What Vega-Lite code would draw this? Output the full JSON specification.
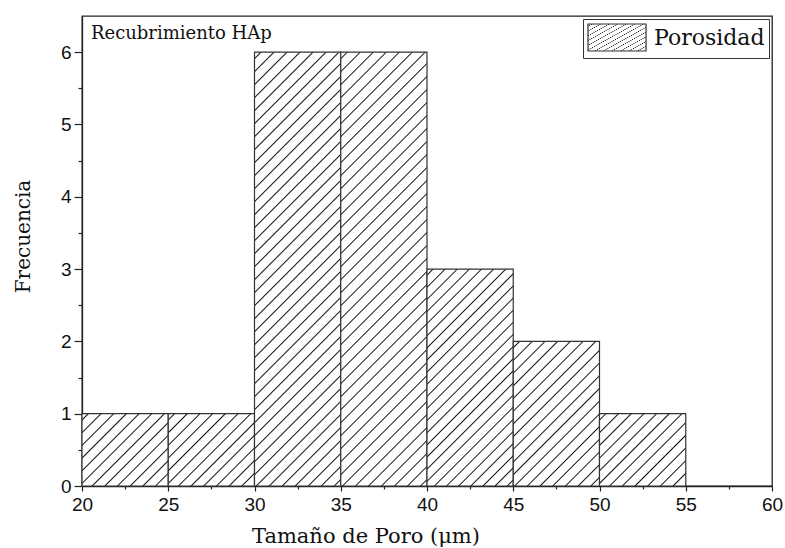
{
  "$schema": "https://vega.github.io/schema/vega-lite/v6.json",
  "autosize": {"type": "none"},
  "width": 690,
  "height": 470,
  "padding": {"left": 82, "top": 16, "right": 13, "bottom": 62},
  "background": "white",
  "config": {
    "view": {"stroke": "#222", "strokeWidth": 1.3},
    "axis": {"grid": false, "domainColor": "#222", "tickColor": "#222", "labelColor": "#111", "titleColor": "#111", "domainWidth": 1.3, "tickWidth": 1.2}
  },
  "data": {
    "values": [
      {"bin_start": 20, "bin_end": 25, "count": 1, "serie": "Porosidad"},
      {"bin_start": 25, "bin_end": 30, "count": 1, "serie": "Porosidad"},
      {"bin_start": 30, "bin_end": 35, "count": 6, "serie": "Porosidad"},
      {"bin_start": 35, "bin_end": 40, "count": 6, "serie": "Porosidad"},
      {"bin_start": 40, "bin_end": 45, "count": 3, "serie": "Porosidad"},
      {"bin_start": 45, "bin_end": 50, "count": 2, "serie": "Porosidad"},
      {"bin_start": 50, "bin_end": 55, "count": 1, "serie": "Porosidad"}
    ]
  },
  "resolve": {"axis": {"x": "independent", "y": "independent"}},
  "layer": [
    {
      "mark": {"type": "bar", "strokeWidth": 1.2},
      "encoding": {
        "x": {
          "field": "bin_start", "type": "quantitative",
          "scale": {"domain": [20, 60], "nice": false, "zero": false},
          "axis": {
            "orient": "bottom",
            "values": [20, 25, 30, 35, 40, 45, 50, 55, 60],
            "tickSize": 5, "labelPadding": 4,
            "labelFont": "Liberation Sans", "labelFontSize": 19,
            "labelFlush": false, "labelOverlap": false,
            "title": "Tamaño de Poro (μm)",
            "titleFont": "DejaVu Serif", "titleFontSize": 21, "titleFontWeight": "normal",
            "titlePadding": 11, "titleX": 283.5, "titleAlign": "center"
          }
        },
        "x2": {"field": "bin_end"},
        "y": {
          "field": "count", "type": "quantitative",
          "scale": {"domain": [0, 6.5], "nice": false, "zero": true},
          "axis": {
            "orient": "left",
            "values": [0, 1, 2, 3, 4, 5, 6],
            "tickSize": 8, "labelPadding": 3,
            "labelFont": "Liberation Sans", "labelFontSize": 19,
            "labelFlush": false, "labelOverlap": false,
            "title": "Frecuencia",
            "titleFont": "DejaVu Serif", "titleFontSize": 20, "titleFontWeight": "normal",
            "titlePadding": 27, "titleY": 220, "titleAlign": "center"
          }
        },
        "y2": {"datum": 0},
        "fill": {
          "condition": [
            {"test": "datum.count == 6", "value": {"gradient": "linear", "x1": 0, "y1": 0, "x2": 0.2293, "y2": 1.1532, "stops": [
              {"offset": 0.0098, "color": "#fff"}, {"offset": 0.0125, "color": "#111"}, {"offset": 0.0152, "color": "#fff"},
              {"offset": 0.0348, "color": "#fff"}, {"offset": 0.0375, "color": "#111"}, {"offset": 0.0402, "color": "#fff"},
              {"offset": 0.0598, "color": "#fff"}, {"offset": 0.0625, "color": "#111"}, {"offset": 0.0652, "color": "#fff"},
              {"offset": 0.0848, "color": "#fff"}, {"offset": 0.0875, "color": "#111"}, {"offset": 0.0902, "color": "#fff"},
              {"offset": 0.1098, "color": "#fff"}, {"offset": 0.1125, "color": "#111"}, {"offset": 0.1152, "color": "#fff"},
              {"offset": 0.1348, "color": "#fff"}, {"offset": 0.1375, "color": "#111"}, {"offset": 0.1402, "color": "#fff"},
              {"offset": 0.1598, "color": "#fff"}, {"offset": 0.1625, "color": "#111"}, {"offset": 0.1652, "color": "#fff"},
              {"offset": 0.1848, "color": "#fff"}, {"offset": 0.1875, "color": "#111"}, {"offset": 0.1902, "color": "#fff"},
              {"offset": 0.2098, "color": "#fff"}, {"offset": 0.2125, "color": "#111"}, {"offset": 0.2152, "color": "#fff"},
              {"offset": 0.2348, "color": "#fff"}, {"offset": 0.2375, "color": "#111"}, {"offset": 0.2402, "color": "#fff"},
              {"offset": 0.2598, "color": "#fff"}, {"offset": 0.2625, "color": "#111"}, {"offset": 0.2652, "color": "#fff"},
              {"offset": 0.2848, "color": "#fff"}, {"offset": 0.2875, "color": "#111"}, {"offset": 0.2902, "color": "#fff"},
              {"offset": 0.3098, "color": "#fff"}, {"offset": 0.3125, "color": "#111"}, {"offset": 0.3152, "color": "#fff"},
              {"offset": 0.3348, "color": "#fff"}, {"offset": 0.3375, "color": "#111"}, {"offset": 0.3402, "color": "#fff"},
              {"offset": 0.3598, "color": "#fff"}, {"offset": 0.3625, "color": "#111"}, {"offset": 0.3652, "color": "#fff"},
              {"offset": 0.3848, "color": "#fff"}, {"offset": 0.3875, "color": "#111"}, {"offset": 0.3902, "color": "#fff"},
              {"offset": 0.4098, "color": "#fff"}, {"offset": 0.4125, "color": "#111"}, {"offset": 0.4152, "color": "#fff"},
              {"offset": 0.4348, "color": "#fff"}, {"offset": 0.4375, "color": "#111"}, {"offset": 0.4402, "color": "#fff"},
              {"offset": 0.4598, "color": "#fff"}, {"offset": 0.4625, "color": "#111"}, {"offset": 0.4652, "color": "#fff"},
              {"offset": 0.4848, "color": "#fff"}, {"offset": 0.4875, "color": "#111"}, {"offset": 0.4902, "color": "#fff"},
              {"offset": 0.5098, "color": "#fff"}, {"offset": 0.5125, "color": "#111"}, {"offset": 0.5152, "color": "#fff"},
              {"offset": 0.5348, "color": "#fff"}, {"offset": 0.5375, "color": "#111"}, {"offset": 0.5402, "color": "#fff"},
              {"offset": 0.5598, "color": "#fff"}, {"offset": 0.5625, "color": "#111"}, {"offset": 0.5652, "color": "#fff"},
              {"offset": 0.5848, "color": "#fff"}, {"offset": 0.5875, "color": "#111"}, {"offset": 0.5902, "color": "#fff"},
              {"offset": 0.6098, "color": "#fff"}, {"offset": 0.6125, "color": "#111"}, {"offset": 0.6152, "color": "#fff"},
              {"offset": 0.6348, "color": "#fff"}, {"offset": 0.6375, "color": "#111"}, {"offset": 0.6402, "color": "#fff"},
              {"offset": 0.6598, "color": "#fff"}, {"offset": 0.6625, "color": "#111"}, {"offset": 0.6652, "color": "#fff"},
              {"offset": 0.6848, "color": "#fff"}, {"offset": 0.6875, "color": "#111"}, {"offset": 0.6902, "color": "#fff"},
              {"offset": 0.7098, "color": "#fff"}, {"offset": 0.7125, "color": "#111"}, {"offset": 0.7152, "color": "#fff"},
              {"offset": 0.7348, "color": "#fff"}, {"offset": 0.7375, "color": "#111"}, {"offset": 0.7402, "color": "#fff"},
              {"offset": 0.7598, "color": "#fff"}, {"offset": 0.7625, "color": "#111"}, {"offset": 0.7652, "color": "#fff"},
              {"offset": 0.7848, "color": "#fff"}, {"offset": 0.7875, "color": "#111"}, {"offset": 0.7902, "color": "#fff"},
              {"offset": 0.8098, "color": "#fff"}, {"offset": 0.8125, "color": "#111"}, {"offset": 0.8152, "color": "#fff"},
              {"offset": 0.8348, "color": "#fff"}, {"offset": 0.8375, "color": "#111"}, {"offset": 0.8402, "color": "#fff"},
              {"offset": 0.8598, "color": "#fff"}, {"offset": 0.8625, "color": "#111"}, {"offset": 0.8652, "color": "#fff"},
              {"offset": 0.8848, "color": "#fff"}, {"offset": 0.8875, "color": "#111"}, {"offset": 0.8902, "color": "#fff"},
              {"offset": 0.9098, "color": "#fff"}, {"offset": 0.9125, "color": "#111"}, {"offset": 0.9152, "color": "#fff"},
              {"offset": 0.9348, "color": "#fff"}, {"offset": 0.9375, "color": "#111"}, {"offset": 0.9402, "color": "#fff"},
              {"offset": 0.9598, "color": "#fff"}, {"offset": 0.9625, "color": "#111"}, {"offset": 0.9652, "color": "#fff"},
              {"offset": 0.9848, "color": "#fff"}, {"offset": 0.9875, "color": "#111"}, {"offset": 0.9902, "color": "#fff"}
            ]}},
            {"test": "datum.count == 3", "value": {"gradient": "linear", "x1": 0, "y1": 0, "x2": 0.4798, "y2": 1.2068, "stops": [
              {"offset": 0.0155, "color": "#fff"}, {"offset": 0.02, "color": "#111"}, {"offset": 0.0245, "color": "#fff"},
              {"offset": 0.0555, "color": "#fff"}, {"offset": 0.06, "color": "#111"}, {"offset": 0.0645, "color": "#fff"},
              {"offset": 0.0955, "color": "#fff"}, {"offset": 0.10, "color": "#111"}, {"offset": 0.1045, "color": "#fff"},
              {"offset": 0.1355, "color": "#fff"}, {"offset": 0.14, "color": "#111"}, {"offset": 0.1445, "color": "#fff"},
              {"offset": 0.1755, "color": "#fff"}, {"offset": 0.18, "color": "#111"}, {"offset": 0.1845, "color": "#fff"},
              {"offset": 0.2155, "color": "#fff"}, {"offset": 0.22, "color": "#111"}, {"offset": 0.2245, "color": "#fff"},
              {"offset": 0.2555, "color": "#fff"}, {"offset": 0.26, "color": "#111"}, {"offset": 0.2645, "color": "#fff"},
              {"offset": 0.2955, "color": "#fff"}, {"offset": 0.30, "color": "#111"}, {"offset": 0.3045, "color": "#fff"},
              {"offset": 0.3355, "color": "#fff"}, {"offset": 0.34, "color": "#111"}, {"offset": 0.3445, "color": "#fff"},
              {"offset": 0.3755, "color": "#fff"}, {"offset": 0.38, "color": "#111"}, {"offset": 0.3845, "color": "#fff"},
              {"offset": 0.4155, "color": "#fff"}, {"offset": 0.42, "color": "#111"}, {"offset": 0.4245, "color": "#fff"},
              {"offset": 0.4555, "color": "#fff"}, {"offset": 0.46, "color": "#111"}, {"offset": 0.4645, "color": "#fff"},
              {"offset": 0.4955, "color": "#fff"}, {"offset": 0.50, "color": "#111"}, {"offset": 0.5045, "color": "#fff"},
              {"offset": 0.5355, "color": "#fff"}, {"offset": 0.54, "color": "#111"}, {"offset": 0.5445, "color": "#fff"},
              {"offset": 0.5755, "color": "#fff"}, {"offset": 0.58, "color": "#111"}, {"offset": 0.5845, "color": "#fff"},
              {"offset": 0.6155, "color": "#fff"}, {"offset": 0.62, "color": "#111"}, {"offset": 0.6245, "color": "#fff"},
              {"offset": 0.6555, "color": "#fff"}, {"offset": 0.66, "color": "#111"}, {"offset": 0.6645, "color": "#fff"},
              {"offset": 0.6955, "color": "#fff"}, {"offset": 0.70, "color": "#111"}, {"offset": 0.7045, "color": "#fff"},
              {"offset": 0.7355, "color": "#fff"}, {"offset": 0.74, "color": "#111"}, {"offset": 0.7445, "color": "#fff"},
              {"offset": 0.7755, "color": "#fff"}, {"offset": 0.78, "color": "#111"}, {"offset": 0.7845, "color": "#fff"},
              {"offset": 0.8155, "color": "#fff"}, {"offset": 0.82, "color": "#111"}, {"offset": 0.8245, "color": "#fff"},
              {"offset": 0.8555, "color": "#fff"}, {"offset": 0.86, "color": "#111"}, {"offset": 0.8645, "color": "#fff"},
              {"offset": 0.8955, "color": "#fff"}, {"offset": 0.90, "color": "#111"}, {"offset": 0.9045, "color": "#fff"},
              {"offset": 0.9355, "color": "#fff"}, {"offset": 0.94, "color": "#111"}, {"offset": 0.9445, "color": "#fff"},
              {"offset": 0.9755, "color": "#fff"}, {"offset": 0.98, "color": "#111"}, {"offset": 0.9845, "color": "#fff"}
            ]}},
            {"test": "datum.count == 2", "value": {"gradient": "linear", "x1": 0, "y1": 0, "x2": 0.7023, "y2": 1.1775, "stops": [
              {"offset": 0.0215, "color": "#fff"}, {"offset": 0.0275, "color": "#111"}, {"offset": 0.0335, "color": "#fff"},
              {"offset": 0.0765, "color": "#fff"}, {"offset": 0.0825, "color": "#111"}, {"offset": 0.0885, "color": "#fff"},
              {"offset": 0.1315, "color": "#fff"}, {"offset": 0.1375, "color": "#111"}, {"offset": 0.1435, "color": "#fff"},
              {"offset": 0.1865, "color": "#fff"}, {"offset": 0.1925, "color": "#111"}, {"offset": 0.1985, "color": "#fff"},
              {"offset": 0.2415, "color": "#fff"}, {"offset": 0.2475, "color": "#111"}, {"offset": 0.2535, "color": "#fff"},
              {"offset": 0.2965, "color": "#fff"}, {"offset": 0.3025, "color": "#111"}, {"offset": 0.3085, "color": "#fff"},
              {"offset": 0.3515, "color": "#fff"}, {"offset": 0.3575, "color": "#111"}, {"offset": 0.3635, "color": "#fff"},
              {"offset": 0.4065, "color": "#fff"}, {"offset": 0.4125, "color": "#111"}, {"offset": 0.4185, "color": "#fff"},
              {"offset": 0.4615, "color": "#fff"}, {"offset": 0.4675, "color": "#111"}, {"offset": 0.4735, "color": "#fff"},
              {"offset": 0.5165, "color": "#fff"}, {"offset": 0.5225, "color": "#111"}, {"offset": 0.5285, "color": "#fff"},
              {"offset": 0.5715, "color": "#fff"}, {"offset": 0.5775, "color": "#111"}, {"offset": 0.5835, "color": "#fff"},
              {"offset": 0.6265, "color": "#fff"}, {"offset": 0.6325, "color": "#111"}, {"offset": 0.6385, "color": "#fff"},
              {"offset": 0.6815, "color": "#fff"}, {"offset": 0.6875, "color": "#111"}, {"offset": 0.6935, "color": "#fff"},
              {"offset": 0.7365, "color": "#fff"}, {"offset": 0.7425, "color": "#111"}, {"offset": 0.7485, "color": "#fff"},
              {"offset": 0.7915, "color": "#fff"}, {"offset": 0.7975, "color": "#111"}, {"offset": 0.8035, "color": "#fff"},
              {"offset": 0.8465, "color": "#fff"}, {"offset": 0.8525, "color": "#111"}, {"offset": 0.8585, "color": "#fff"},
              {"offset": 0.9015, "color": "#fff"}, {"offset": 0.9075, "color": "#111"}, {"offset": 0.9135, "color": "#fff"},
              {"offset": 0.9565, "color": "#fff"}, {"offset": 0.9625, "color": "#111"}, {"offset": 0.9685, "color": "#fff"}
            ]}}
          ],
          "value": {"gradient": "linear", "x1": 0, "y1": 0, "x2": 1.0796, "y2": 0.9051, "stops": [
            {"offset": 0.031, "color": "#fff"}, {"offset": 0.04, "color": "#111"}, {"offset": 0.049, "color": "#fff"},
            {"offset": 0.111, "color": "#fff"}, {"offset": 0.12, "color": "#111"}, {"offset": 0.129, "color": "#fff"},
            {"offset": 0.191, "color": "#fff"}, {"offset": 0.2, "color": "#111"}, {"offset": 0.209, "color": "#fff"},
            {"offset": 0.271, "color": "#fff"}, {"offset": 0.28, "color": "#111"}, {"offset": 0.289, "color": "#fff"},
            {"offset": 0.351, "color": "#fff"}, {"offset": 0.36, "color": "#111"}, {"offset": 0.369, "color": "#fff"},
            {"offset": 0.431, "color": "#fff"}, {"offset": 0.44, "color": "#111"}, {"offset": 0.449, "color": "#fff"},
            {"offset": 0.511, "color": "#fff"}, {"offset": 0.52, "color": "#111"}, {"offset": 0.529, "color": "#fff"},
            {"offset": 0.591, "color": "#fff"}, {"offset": 0.6, "color": "#111"}, {"offset": 0.609, "color": "#fff"},
            {"offset": 0.671, "color": "#fff"}, {"offset": 0.68, "color": "#111"}, {"offset": 0.689, "color": "#fff"},
            {"offset": 0.751, "color": "#fff"}, {"offset": 0.76, "color": "#111"}, {"offset": 0.769, "color": "#fff"},
            {"offset": 0.831, "color": "#fff"}, {"offset": 0.84, "color": "#111"}, {"offset": 0.849, "color": "#fff"},
            {"offset": 0.911, "color": "#fff"}, {"offset": 0.92, "color": "#111"}, {"offset": 0.929, "color": "#fff"}
          ]}
        },
        "stroke": {
          "field": "serie", "type": "nominal",
          "scale": {"range": ["#333"]},
          "legend": {
            "title": null,
            "orient": "top-right",
            "offset": 3,
            "padding": 4,
            "strokeColor": "#333",
            "fillColor": "white",
            "symbolType": "M-1,-1H3.3V1H-1Z",
            "symbolSize": 729,
            "symbolStrokeWidth": 1.2,
            "labelFont": "DejaVu Serif",
            "labelFontSize": 22,
            "labelColor": "#111",
            "labelOffset": 38,
            "labelLimit": 300,
            "encode": {
              "symbols": {
                "update": {
                  "stroke": {"value": "#333"},
                  "fill": {"value": {"gradient": "linear", "x1": 0, "y1": 0, "x2": 1.2046, "y2": 0.558, "stops": [
                    {"offset": 0.064, "color": "#fff"}, {"offset": 0.08, "color": "#111"}, {"offset": 0.096, "color": "#fff"},
                    {"offset": 0.224, "color": "#fff"}, {"offset": 0.24, "color": "#111"}, {"offset": 0.256, "color": "#fff"},
                    {"offset": 0.384, "color": "#fff"}, {"offset": 0.40, "color": "#111"}, {"offset": 0.416, "color": "#fff"},
                    {"offset": 0.544, "color": "#fff"}, {"offset": 0.56, "color": "#111"}, {"offset": 0.576, "color": "#fff"},
                    {"offset": 0.704, "color": "#fff"}, {"offset": 0.72, "color": "#111"}, {"offset": 0.736, "color": "#fff"},
                    {"offset": 0.864, "color": "#fff"}, {"offset": 0.88, "color": "#111"}, {"offset": 0.896, "color": "#fff"}
                  ]}}
                }
              }
            }
          }
        }
      }
    },
    {
      "mark": {"type": "point", "opacity": 0},
      "encoding": {
        "x": {
          "field": "bin_start", "type": "quantitative",
          "scale": {"domain": [20, 60], "nice": false, "zero": false},
          "axis": {"orient": "bottom", "values": [22.5, 27.5, 32.5, 37.5, 42.5, 47.5, 52.5, 57.5], "tickSize": 3, "labels": false, "domain": false, "title": null}
        },
        "y": {
          "field": "count", "type": "quantitative",
          "scale": {"domain": [0, 6.5], "nice": false, "zero": true},
          "axis": {"orient": "left", "values": [0.5, 1.5, 2.5, 3.5, 4.5, 5.5], "tickSize": 4, "labels": false, "domain": false, "title": null}
        }
      }
    },
    {
      "data": {"values": [{"label": "Recubrimiento HAp", "px": 20.52, "py": 6.18}]},
      "mark": {"type": "text", "align": "left", "baseline": "alphabetic", "font": "DejaVu Serif", "fontSize": 18, "color": "#111"},
      "encoding": {
        "x": {"field": "px", "type": "quantitative", "scale": {"domain": [20, 60], "nice": false, "zero": false}, "axis": null},
        "y": {"field": "py", "type": "quantitative", "scale": {"domain": [0, 6.5], "nice": false, "zero": true}, "axis": null},
        "text": {"field": "label"}
      }
    }
  ]
}
